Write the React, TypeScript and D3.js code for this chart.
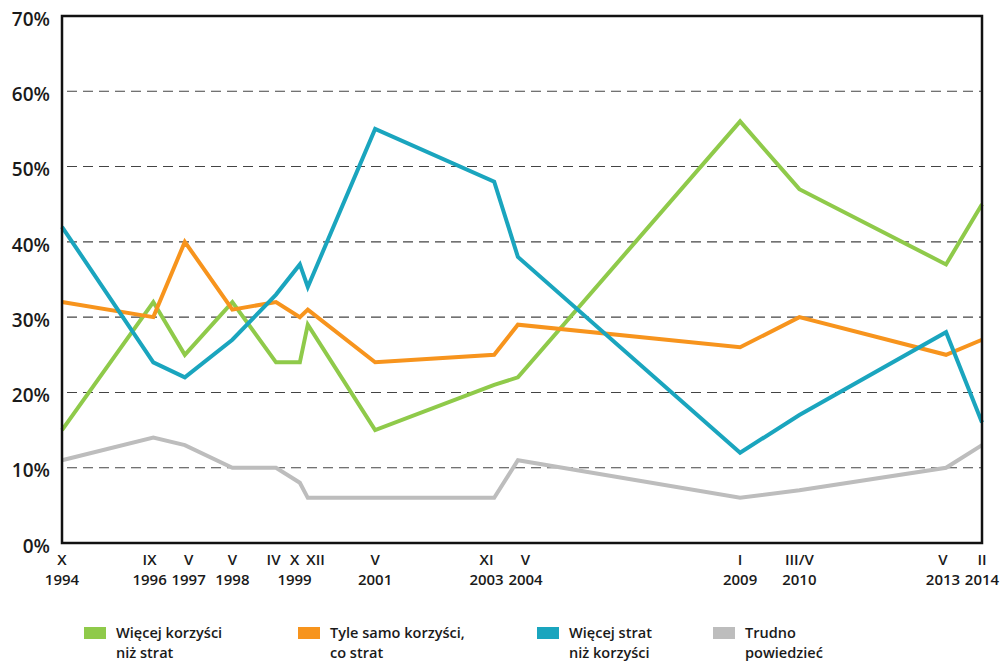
import React, { useRef, useEffect } from 'react';
import * as d3 from 'd3';

// survey dates (month in roman numerals + year)
const months = ["X", "IX", "V", "V", "IV", "X", "XII", "V", "XI", "V", "I", "III/V", "V", "II"];
const years = [1994, 1996, 1997, 1998, 1999, 1999, 1999, 2001, 2003, 2004, 2009, 2010, 2013, 2014];

// answers, in percent
const moreBenefits = [15, 32, 25, 32, 24, 24, 29, 15, 21, 22, 56, 47, 37, 45];
const equal = [32, 30, 40, 31, 32, 30, 31, 24, 25, 29, 26, 30, 25, 27];
const moreLosses = [42, 24, 22, 27, 33, 37, 34, 55, 48, 38, 12, 17, 28, 16];
const hardToSay = [11, 14, 13, 10, 10, 8, 6, 6, 6, 11, 6, 7, 10, 13];

const yTicks = [0, 10, 20, 30, 40, 50, 60, 70];

const seriesNames = [
    ["Więcej korzyści", "niż strat"],
    ["Tyle samo korzyści,", "co strat"],
    ["Więcej strat", "niż korzyści"],
    ["Trudno", "powiedzieć"],
];
const seriesColors = ["#8fca4a", "#f7941d", "#1aa5be", "#bdbdbd"];

const romanMonth: Record<string, number> = {
    I: 0, II: 1, III: 2, IV: 3, V: 4, VI: 5, VII: 6, VIII: 7, IX: 8, X: 9, XI: 10, XII: 11,
    "III/V": 3,
};

const App = () => {
    const svgRef = useRef<SVGSVGElement>(null);
    const width = 1005;
    const height = 663;

    useEffect(() => {
        const svg = d3.select(svgRef.current);
        svg.selectAll("*").remove();

        const margin = { top: 16, right: 23, bottom: 120, left: 62 };
        const innerWidth = width - margin.left - margin.right;
        const innerHeight = height - margin.top - margin.bottom;
        const font = "'Open Sans', 'Noto Sans', sans-serif";

        const dates = months.map((m, i) => new Date(years[i], romanMonth[m], 1));

        const x = d3
            .scaleTime()
            .domain([dates[0], dates[dates.length - 1]])
            .range([0, innerWidth]);

        const y = d3.scaleLinear().domain([0, 70]).range([innerHeight, 0]);

        const chart = svg
            .append("g")
            .attr("transform", `translate(${margin.left}, ${margin.top})`);

        // dashed gridlines
        chart
            .selectAll("line.grid")
            .data(yTicks.filter((t) => t > 0 && t < 70))
            .enter()
            .append("line")
            .attr("class", "grid")
            .attr("x1", 2)
            .attr("x2", innerWidth - 1)
            .attr("y1", (d) => y(d))
            .attr("y2", (d) => y(d))
            .attr("stroke", "#444")
            .attr("stroke-width", 1.1)
            .attr("stroke-dasharray", "10,6")
            .attr("stroke-dashoffset", -3);

        // y labels
        chart
            .selectAll("text.ytick")
            .data(yTicks)
            .enter()
            .append("text")
            .attr("class", "ytick")
            .attr("x", -12)
            .attr("y", (d) => y(d) + 3)
            .attr("dy", "0.35em")
            .attr("text-anchor", "end")
            .attr("font-family", font)
            .attr("font-size", 19)
            .attr("font-weight", 600)
            .attr("fill", "#1a1a1a")
            .text((d) => `${d}%`);

        // lines
        const allSeries = [moreBenefits, equal, moreLosses, hardToSay];
        const line = d3
            .line<number>()
            .x((_, i) => x(dates[i]))
            .y((d) => y(d));

        // gray first so the coloured lines sit on top
        [3, 0, 1, 2].forEach((s) => {
            chart
                .append("path")
                .datum(allSeries[s])
                .attr("d", line)
                .attr("fill", "none")
                .attr("stroke", seriesColors[s])
                .attr("stroke-width", 4)
                .attr("stroke-linejoin", "miter");
        });

        // frame
        chart
            .append("rect")
            .attr("x", 0)
            .attr("y", 0)
            .attr("width", innerWidth)
            .attr("height", innerHeight)
            .attr("fill", "none")
            .attr("stroke", "#111")
            .attr("stroke-width", 2.5);

        // x labels: push crowded labels apart (more room between different years)
        const labelX = dates.map((d) => x(d));
        for (let iter = 0; iter < 200; iter++) {
            for (let i = 1; i < labelX.length; i++) {
                const gap = years[i] === years[i - 1] ? 21 : 39;
                const diff = labelX[i] - labelX[i - 1];
                if (diff < gap) {
                    const push = (gap - diff) / 2;
                    if (i - 1 > 0) labelX[i - 1] -= push;
                    else labelX[i] += push;
                    if (i < labelX.length - 1) labelX[i] += push;
                    else labelX[i - 1] -= push;
                }
            }
        }

        chart
            .selectAll("text.month")
            .data(months)
            .enter()
            .append("text")
            .attr("class", "month")
            .attr("x", (_, i) => labelX[i])
            .attr("y", innerHeight + 22)
            .attr("text-anchor", "middle")
            .attr("font-family", font)
            .attr("font-size", 15)
            .attr("font-weight", 600)
            .attr("fill", "#1a1a1a")
            .text((d) => d);

        const yearGroups = d3.groups(
            years.map((yr, i) => ({ yr, i })),
            (d) => d.yr
        );
        chart
            .selectAll("text.year")
            .data(yearGroups)
            .enter()
            .append("text")
            .attr("class", "year")
            .attr("x", ([, items]) => d3.mean(items, (d) => labelX[d.i]) as number)
            .attr("y", innerHeight + 42)
            .attr("text-anchor", "middle")
            .attr("font-family", font)
            .attr("font-size", 15)
            .attr("font-weight", 600)
            .attr("fill", "#1a1a1a")
            .text(([yr]) => yr);

        // legend
        const legendX = [84, 298, 537, 713];
        const legend = svg
            .append("g")
            .selectAll("g")
            .data(seriesNames)
            .enter()
            .append("g")
            .attr("transform", (_, i) => `translate(${legendX[i]}, 625)`);

        legend
            .append("rect")
            .attr("y", 2)
            .attr("width", 22)
            .attr("height", 12)
            .attr("fill", (_, i) => seriesColors[i]);

        const legendText = legend
            .append("g")
            .attr("transform", "translate(32, 0) scale(0.97, 1)");

        legendText
            .append("text")
            .attr("y", 13)
            .attr("font-family", font)
            .attr("font-size", 15)
            .attr("font-weight", 600)
            .attr("fill", "#1a1a1a")
            .text((d) => d[0]);

        legendText
            .append("text")
            .attr("y", 33)
            .attr("font-family", font)
            .attr("font-size", 15)
            .attr("font-weight", 600)
            .attr("fill", "#1a1a1a")
            .text((d) => d[1]);
    }, []);

    return (
        <svg
            ref={svgRef}
            width={width}
            height={height}
            style={{ position: "absolute", left: 0, top: 0, background: "#fff" }}
        ></svg>
    );
};

export default App;
